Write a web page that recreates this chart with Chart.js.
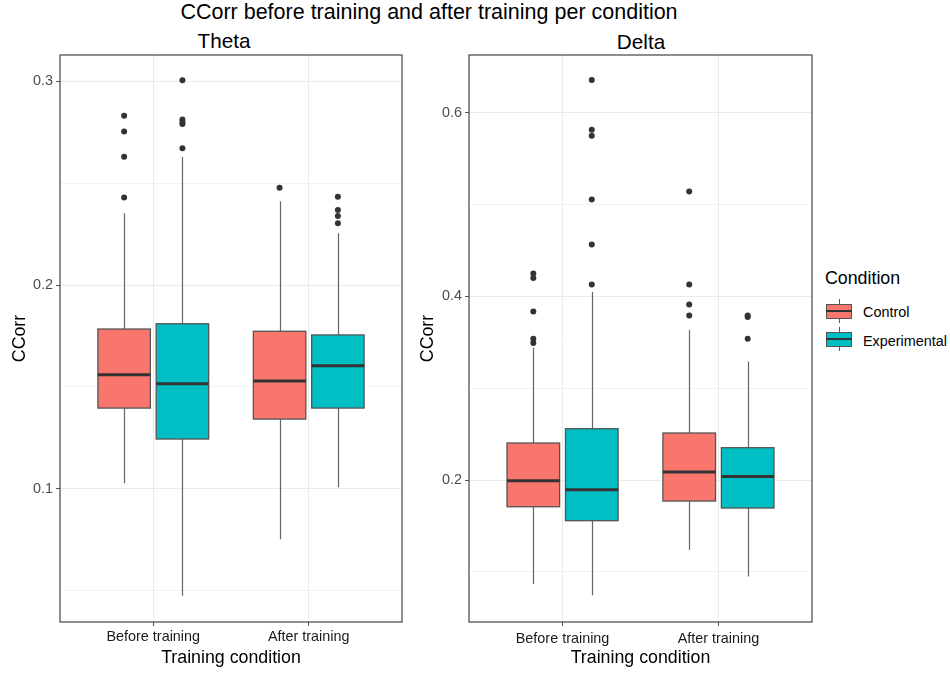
<!DOCTYPE html>
<html>
<head>
<meta charset="utf-8">
<script src="https://cdn.jsdelivr.net/npm/chart.js@4/dist/chart.umd.min.js"></script>
<style>
  html, body { margin: 0; padding: 0; background: #ffffff; }
  #page { position: relative; width: 950px; height: 673px; overflow: hidden;
          font-family: "Liberation Sans", Arial, sans-serif; color: #000; }
  .txt { position: absolute; white-space: nowrap; line-height: 1; }
  canvas { position: absolute; top: 0; }
  .key { position: absolute; width: 26px; height: 24px; }
  .key .wh { position: absolute; left: 12.5px; top: 0; width: 1px; height: 24px; background: #555; }
  .key .bx { position: absolute; left: 0; top: 5px; width: 24px; height: 13px; border: 1px solid #555; }
  .key .md { position: absolute; left: 0; top: 11px; width: 26px; height: 2px; background: #333; }
</style>
</head>
<body>
<div id="page">
  <div class="txt" style="left:0; width:858px; text-align:center; top:2px; font-size:21.5px;">CCorr before training and after training per condition</div>
  <div class="txt" style="left:124px; width:200px; text-align:center; top:30.5px; font-size:20.7px;">Theta</div>
  <div class="txt" style="left:541px; width:200px; text-align:center; top:31.5px; font-size:20.7px;">Delta</div>

  <canvas id="theta" width="410" height="673" style="left:0;"></canvas>
  <canvas id="delta" width="410" height="673" style="left:410px;"></canvas>

  <div class="txt" style="left:825px; top:270px; font-size:17.8px;">Condition</div>
  <div class="key" style="left:826px; top:299px;"><div class="wh"></div><div class="bx" style="background:#F8766D;"></div><div class="md"></div></div>
  <div class="txt" style="left:863px; top:305px; font-size:14.4px;">Control</div>
  <div class="key" style="left:826px; top:327px;"><div class="wh"></div><div class="bx" style="background:#00BFC4;"></div><div class="md"></div></div>
  <div class="txt" style="left:863px; top:333.5px; font-size:14.4px;">Experimental</div>
</div>

<script>
// Categories on the x axis and the two groups compared within each
const categories = ['Before training', 'After training'];
const groups = ['Control', 'Experimental'];
const groupColors = ['#F8766D', '#00BFC4'];

// Box statistics per category: [lower whisker, Q1, median, Q3, upper whisker]
const thetaControlBox = [
  [0.1027, 0.1396, 0.1560, 0.1784, 0.2352],
  [0.0752, 0.1342, 0.1529, 0.1773, 0.2411]
];
const thetaExperimentalBox = [
  [0.0475, 0.1244, 0.1515, 0.1810, 0.2628],
  [0.1007, 0.1396, 0.1604, 0.1755, 0.2254]
];
const thetaControlOutliers = [
  [0.2831, 0.2753, 0.2630, 0.2429],
  [0.2478]
];
const thetaExperimentalOutliers = [
  [0.3005, 0.2812, 0.2800, 0.2790, 0.2671],
  [0.2433, 0.2368, 0.2339, 0.2303]
];

const deltaControlBox = [
  [0.0868, 0.1709, 0.1992, 0.2403, 0.3440],
  [0.1238, 0.1771, 0.2087, 0.2512, 0.3636]
];
const deltaExperimentalBox = [
  [0.0744, 0.1557, 0.1894, 0.2559, 0.4047],
  [0.0950, 0.1695, 0.2039, 0.2352, 0.3291]
];
const deltaControlOutliers = [
  [0.4249, 0.4199, 0.3836, 0.3538, 0.3492],
  [0.5142, 0.4130, 0.3912, 0.3792]
];
const deltaExperimentalOutliers = [
  [0.6355, 0.5814, 0.5749, 0.5055, 0.4565, 0.4130],
  [0.3792, 0.3775, 0.3538]
];

// Gridline values: labelled major ticks and unlabelled minor lines between them
const thetaMajorTicks = [0.1, 0.2, 0.3];
const thetaMinorTicks = [0.05, 0.15, 0.25];
const deltaMajorTicks = [0.2, 0.4, 0.6];
const deltaMinorTicks = [0.1, 0.3, 0.5];

// Dodge geometry in category units (two groups share 0.75 of a slot)
const DODGE = 0.1875;
const HALF_BOX = 0.16875;

function outlierPoints(outliers, shift) {
  const pts = [];
  outliers.forEach((vals, i) => vals.forEach(v => pts.push({ x: i + 1 + shift, y: v })));
  return pts;
}

// Draws whiskers, boxes and medians through the chart's own scales
const boxPlugin = {
  id: 'boxes',
  beforeDatasetsDraw(chart) {
    const { ctx, chartArea, scales: { x, y } } = chart;
    const sets = chart.options.plugins.boxes.sets;
    ctx.save();
    ctx.beginPath();
    ctx.rect(chartArea.left, chartArea.top, chartArea.right - chartArea.left, chartArea.bottom - chartArea.top);
    ctx.clip();
    sets.forEach(set => {
      set.stats.forEach((s, i) => {
        const cx = x.getPixelForValue(i + 1 + set.shift);
        const x0 = x.getPixelForValue(i + 1 + set.shift - HALF_BOX);
        const x1 = x.getPixelForValue(i + 1 + set.shift + HALF_BOX);
        const [lo, q1, med, q3, hi] = s.map(v => y.getPixelForValue(v));
        const xc = Math.round(cx) + 0.5;
        ctx.strokeStyle = '#666666';
        ctx.lineWidth = 1.2;
        ctx.beginPath();
        ctx.moveTo(xc, lo); ctx.lineTo(xc, q1);
        ctx.moveTo(xc, q3); ctx.lineTo(xc, hi);
        ctx.stroke();
        ctx.fillStyle = set.color;
        ctx.fillRect(x0, q3, x1 - x0, q1 - q3);
        ctx.strokeStyle = '#555555';
        ctx.lineWidth = 1.3;
        ctx.strokeRect(x0, q3, x1 - x0, q1 - q3);
        ctx.strokeStyle = '#333333';
        ctx.lineWidth = 3;
        ctx.beginPath();
        ctx.moveTo(x0, med); ctx.lineTo(x1, med);
        ctx.stroke();
      });
    });
    ctx.restore();
  },
  afterDraw(chart) {
    const { ctx, chartArea: a } = chart;
    ctx.save();
    ctx.strokeStyle = '#444444';
    ctx.lineWidth = 1.2;
    ctx.strokeRect(a.left, a.top, a.right - a.left, a.bottom - a.top);
    ctx.restore();
  }
};

function makePanel(id, ctrlBox, expBox, ctrlOut, expOut, major, minor, yMin, yMax, yAxisWidth, titlePad, xTickPad) {
  const allTicks = minor.concat(major).sort((a, b) => a - b);
  const isMajor = v => major.some(m => Math.abs(m - v) < 1e-9);
  return new Chart(document.getElementById(id), {
    type: 'scatter',
    data: {
      datasets: [
        { label: groups[0], data: outlierPoints(ctrlOut, -DODGE), backgroundColor: '#333333',
          borderColor: '#333333', pointRadius: 3, pointHoverRadius: 3, borderWidth: 0 },
        { label: groups[1], data: outlierPoints(expOut, DODGE), backgroundColor: '#333333',
          borderColor: '#333333', pointRadius: 3, pointHoverRadius: 3, borderWidth: 0 }
      ]
    },
    options: {
      responsive: false,
      animation: false,
      events: [],
      layout: { padding: { top: 55, right: 8, left: 0, bottom: 0 } },
      plugins: {
        legend: { display: false },
        tooltip: { enabled: false },
        boxes: {
          sets: [
            { stats: ctrlBox, shift: -DODGE, color: groupColors[0] },
            { stats: expBox, shift: DODGE, color: groupColors[1] }
          ]
        }
      },
      scales: {
        x: {
          type: 'linear',
          min: 0.4, max: 2.6,
          afterBuildTicks: s => { s.ticks = categories.map((c, i) => ({ value: i + 1 })); },
          afterFit: s => { s.height = 51; },
          ticks: {
            callback: v => categories[Math.round(v) - 1],
            color: '#1a1a1a',
            font: { family: 'Liberation Sans', size: 14.4 },
            padding: xTickPad,
            maxRotation: 0
          },
          grid: { color: '#ebebeb', lineWidth: 1, tickLength: 4, tickColor: '#555555', drawTicks: true },
          border: { display: false },
          title: {
            display: true, text: 'Training condition', color: '#000',
            font: { family: 'Liberation Sans', size: 17.8 },
            padding: { top: 0, bottom: 4 }
          }
        },
        y: {
          type: 'linear',
          min: yMin, max: yMax,
          afterBuildTicks: s => { s.ticks = allTicks.map(v => ({ value: v })); },
          afterFit: s => { s.width = yAxisWidth; },
          ticks: {
            callback: v => (isMajor(v) ? String(v) : ''),
            color: '#4d4d4d',
            font: { family: 'Liberation Sans', size: 14.4 },
            padding: 3
          },
          grid: {
            color: c => (c.tick && isMajor(c.tick.value) ? '#ebebeb' : '#f2f2f2'),
            lineWidth: 1,
            tickLength: 4,
            tickColor: c => (c.tick && isMajor(c.tick.value) ? '#555555' : 'rgba(0,0,0,0)')
          },
          border: { display: false },
          title: {
            display: true, text: 'CCorr', color: '#000',
            font: { family: 'Liberation Sans', size: 17.8 },
            padding: { top: titlePad, bottom: 0 }
          }
        }
      }
    },
    plugins: [boxPlugin]
  });
}

makePanel('theta', thetaControlBox, thetaExperimentalBox, thetaControlOutliers, thetaExperimentalOutliers,
  thetaMajorTicks, thetaMinorTicks, 0.0346, 0.3129, 60, 9.5, 2);
makePanel('delta', deltaControlBox, deltaExperimentalBox, deltaControlOutliers, deltaExperimentalOutliers,
  deltaMajorTicks, deltaMinorTicks, 0.0454, 0.6628, 59, 7.5, 4);
</script>
</body>
</html>
